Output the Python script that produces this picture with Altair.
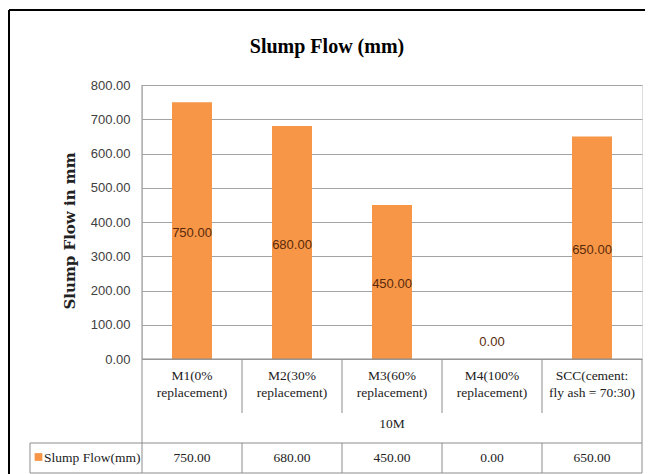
import altair as alt
import pandas as pd

# ---- data ----
cat_line1 = ["M1(0%", "M2(30%", "M3(60%", "M4(100%", "SCC(cement:"]
cat_line2 = ["replacement)", "replacement)", "replacement)", "replacement)", "fly ash = 70:30)"]
values = [750.0, 680.0, 450.0, 0.0, 650.0]
y_ticks = [0, 100, 200, 300, 400, 500, 600, 700, 800]
group_label = "10M"
series_name = "Slump Flow(mm)"
chart_title = "Slump Flow (mm)"
y_title = "Slump Flow in mm"

categories = [a + " " + b for a, b in zip(cat_line1, cat_line2)]
df = pd.DataFrame({
    "cat": categories,
    "v": values,
    "lbl": [a + "\n" + b for a, b in zip(cat_line1, cat_line2)],
})

W, H = 500, 274
BAR = "#F79646"
GRID = "#a3a3a3"
TBL = "#8c8c8c"
SERIF = "Liberation Serif"
SANS = "Liberation Sans"

xenc = alt.X("cat:N", sort=categories,
             scale=alt.Scale(paddingInner=0.6, paddingOuter=0.3), axis=None)

yscale = alt.Scale(domain=[0, 800], nice=False)
yaxis = alt.Axis(values=y_ticks, format=".2f", grid=True, gridColor=GRID,
                 gridWidth=1, domain=False, ticks=False, labelFont=SANS,
                 labelFontSize=13, labelColor="#404040", labelPadding=12,
                 labelOverlap=False, title=None)

base = alt.Chart(df)

bars = base.mark_bar(color=BAR).encode(
    x=xenc,
    y=alt.Y("v:Q", scale=yscale, axis=yaxis),
)

bar_labels = base.transform_calculate(
    t="datum.v"
).transform_calculate(
    v="datum.t > 0 ? datum.t / 2 : 55"
).mark_text(font=SANS, fontSize=13, color="#5a2a0c", dy=2, baseline="middle").encode(
    x=xenc,
    y=alt.Y("v:Q", scale=yscale, axis=yaxis),
    text=alt.Text("t:Q", format=".2f"),
)

cat_labels = base.mark_text(font=SERIF, fontSize=13.5, color="#222222",
                            lineBreak="\n", lineHeight=17, baseline="middle").encode(
    x=xenc, y=alt.value(291), text="lbl:N")

table_vals = base.mark_text(font=SERIF, fontSize=13.5, color="#222222",
                            baseline="middle").encode(
    x=xenc, y=alt.value(373), text=alt.Text("v:Q", format=".2f"))

one = alt.Data(values=[{}])

def txt(s, x, y, **kw):
    return alt.Chart(one).mark_text(**kw).encode(
        x=alt.value(x), y=alt.value(y), text=alt.value(s))

title_t = txt(chart_title, 185, -38, font=SERIF, fontSize=20, fontWeight="bold",
              color="#000000", baseline="middle")
ytitle_t = txt(y_title, -72, 146, font="DejaVu Serif", fontSize=15, fontWeight="bold",
               color="#222222", angle=270, baseline="middle")
group_t = txt(group_label, 250, 339, font=SERIF, fontSize=13.5, color="#222222",
              baseline="middle")
series_t = txt(series_name, -98, 373, font=SERIF, fontSize=13.5, color="#222222",
               baseline="middle", align="left")
key = alt.Chart(one).mark_square(color=BAR, size=60, opacity=1).encode(
    x=alt.value(-103.5), y=alt.value(372))

def seg(x1, y1, x2, y2, color=TBL, w=1):
    return alt.Chart(one).mark_rule(color=color, strokeWidth=w).encode(
        x=alt.value(x1), x2=alt.value(x2), y=alt.value(y1), y2=alt.value(y2))

lines = [
    seg(0, 0, 0, 388),          # left axis / table edge
    seg(500, 274, 500, 388),    # right table edge
    seg(0, 274, 500, 274),      # category axis
    seg(-112, 358, 500, 358),   # row top
    seg(-112, 388, 500, 388),   # row bottom
    seg(-112, 358, -112, 388),
]
for xv in [100, 200, 300, 400]:
    lines.append(seg(xv, 274, xv, 328))
    lines.append(seg(xv, 358, xv, 388))

frame = [
    seg(-133, -75, -133, 400, color="#000000", w=2),
    seg(-133, -75, 520, -75, color="#000000", w=2),
]

chart = alt.layer(
    bars, *lines, *frame, bar_labels, cat_labels, table_vals,
    title_t, ytitle_t, group_t, series_t, key
).properties(
    width=W, height=H,
    autosize=alt.AutoSizeParams(type="none"),
    padding={"left": 134, "top": 77, "right": 3, "bottom": 115},
).configure_view(stroke=None).configure(background="white")

chart.save("out.html", embed_options={"renderer": "svg", "actions": False})
